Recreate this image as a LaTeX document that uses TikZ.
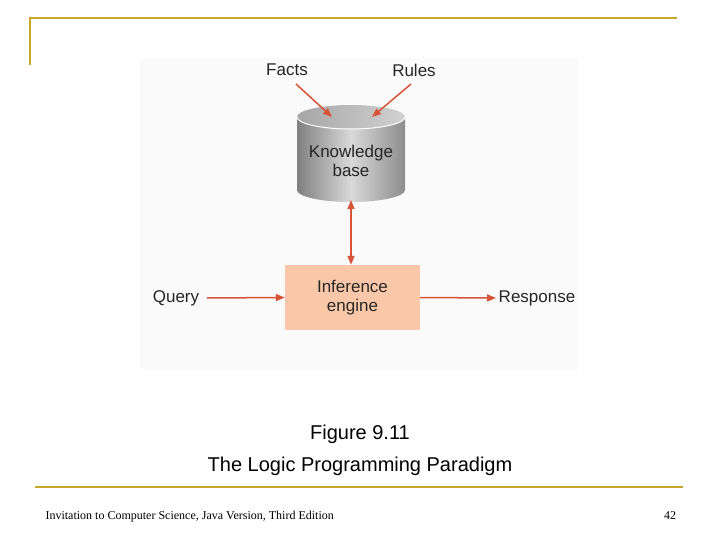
\documentclass[tikz,border=0pt]{standalone}
\usepackage{fontspec}
\setmainfont{Liberation Sans}
\newfontfamily\tms{Liberation Serif}
\usetikzlibrary{arrows.meta}
\definecolor{gold}{RGB}{200,168,40}
\definecolor{arr}{RGB}{214,84,56}
\definecolor{peach}{RGB}{250,200,168}
\begin{document}
\begin{tikzpicture}[x=1pt,y=-1pt,
  lab/.style={font=\fontsize{17}{18}\selectfont, align=center, text=black!85},
  ar/.style={draw=arr, line width=1.5pt, -{Triangle[length=9pt,width=7pt]}},
  captxt/.style={font=\fontsize{20}{22}\selectfont}]
\useasboundingbox (0,0) rectangle (720,540);
\fill[white] (0,0) rectangle (720,540);
\draw[gold, line width=2pt] (30,65) -- (30,18) -- (677,18);
\draw[gold, line width=1.5pt] (35,487) -- (683,487);
\fill[black!2] (140,58) rectangle (578,370);
% cylinder
\shade[left color=black!50, right color=black!45, middle color=black!15] (297,117) -- (297,190) arc[start angle=180,end angle=0,x radius=54,y radius=12] -- (405,117) -- cycle;
\shade[left color=black!35, right color=black!18] (351,117) ellipse[x radius=54, y radius=12];
\draw[white, line width=1pt] (297,117) arc[start angle=180,end angle=0,x radius=54,y radius=12];
\node[lab] (kb) at (351,161) {Knowledge\\[1pt]base};
\coordinate (kbtop1) at (332,117);
\coordinate (kbtop2) at (372,117);
\coordinate (kbbot) at (351,200);
\node[lab] (facts) at (287,70) {Facts};
\node[lab] (rules) at (414,70) {Rules};
\node[fill=peach, minimum width=135pt, minimum height=65pt, inner sep=0pt, lab] (ie) at (352.5,297.5) {Inference\\[1pt]engine};
\node[lab] (q) at (176,298) {Query};
\node[lab] (r) at (537,298) {Response};
\coordinate (fs) at (296,84);
\coordinate (rs) at (411,84);
\coordinate (qs) at (207,298);
\coordinate (re) at (496,298);
\draw[ar] (fs) -- (kbtop1);
\draw[ar] (rs) -- (kbtop2);
\draw[ar, {Triangle[length=9pt,width=7pt]}-{Triangle[length=9pt,width=7pt]}] (kbbot) -- (kbbot |- ie.north);
\draw[ar] (qs) -- (ie.west);
\draw[ar] (ie.east) -- (re);
\node[captxt] (f1) at (360,434) {Figure 9.11};
\node[captxt] (f2) at (360,466) {The Logic Programming Paradigm};
\node[font=\tms\fontsize{12}{14}\selectfont, anchor=west] (ft) at (42,517) {Invitation to Computer Science, Java Version, Third Edition};
\node[font=\tms\fontsize{12}{14}\selectfont] (pg) at (670,516) {42};
\end{tikzpicture}
\end{document}
